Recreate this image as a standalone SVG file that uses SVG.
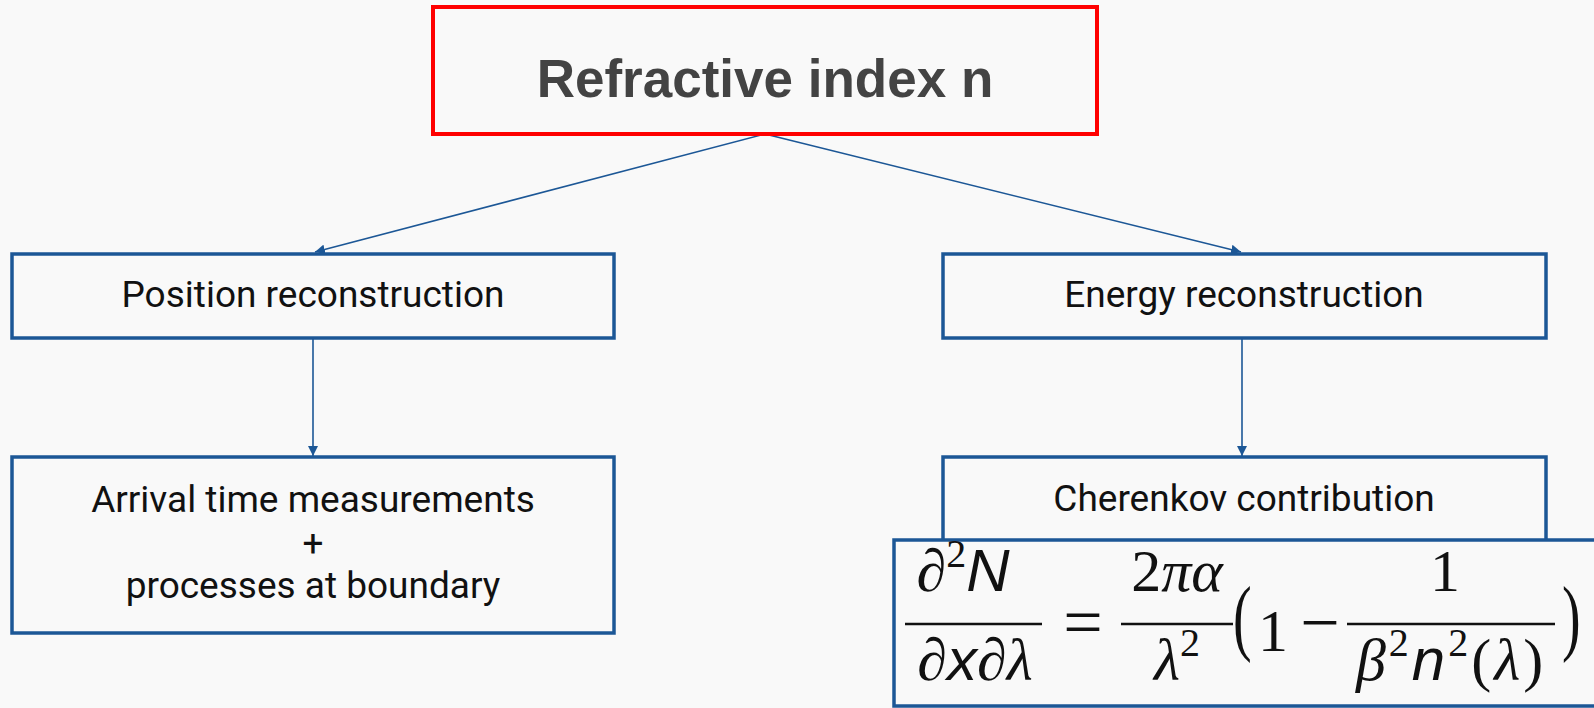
<svg xmlns="http://www.w3.org/2000/svg" width="1594" height="708" viewBox="0 0 1594 708">
<defs>
<marker id="ah" viewBox="0 0 10 10" refX="10" refY="5" markerWidth="10" markerHeight="10" markerUnits="userSpaceOnUse" orient="auto">
<path d="M0,0 L10,5 L0,10 z" fill="#1c5796"/>
</marker>
</defs>
<style>
.box{fill:#f9f9f9;stroke:#1c5796;stroke-width:3.5}
.lbl{font-family:Roboto,"Liberation Sans",sans-serif;font-size:37px;fill:#111;text-anchor:middle}
.con{stroke:#1c5796;stroke-width:1.6;fill:none;marker-end:url(#ah)}
.m{font-family:"Liberation Serif","DejaVu Serif",serif;font-size:60px;fill:#111}
.op{font-family:"Liberation Serif",serif;font-size:70px;fill:#111;text-anchor:middle}
.par{font-family:"Liberation Serif",serif;font-size:56px;fill:#111}
.sf{font-family:"Liberation Sans",sans-serif;font-style:italic}
.it{font-style:italic}
.sup{font-size:40px;font-style:normal}
.bar{stroke:#111;stroke-width:2.5}
</style>
<rect width="1594" height="708" fill="#f9f9f9"/>
<g id="connectors">
<line class="con" x1="765" y1="134" x2="315" y2="252"/>
<line class="con" x1="765" y1="134" x2="1241" y2="252"/>
<line class="con" x1="313" y1="338" x2="313" y2="456"/>
<line class="con" x1="1242" y1="338" x2="1242" y2="456"/>
</g>
<g id="title">
<rect x="433" y="7" width="664" height="127" fill="#f9f9f9" stroke="#ff0000" stroke-width="4"/>
<text x="765" y="97" text-anchor="middle" font-family="'Liberation Sans',Arial,sans-serif" font-weight="bold" font-size="53" fill="#434343">Refractive index n</text>
</g>
<g id="position">
<rect class="box" x="12" y="254" width="602" height="84"/>
<text class="lbl" x="313" y="307">Position reconstruction</text>
</g>
<g id="energy">
<rect class="box" x="943" y="254" width="603" height="84"/>
<text class="lbl" x="1244" y="307">Energy reconstruction</text>
</g>
<g id="arrival">
<rect class="box" x="12" y="457" width="602" height="176"/>
<text class="lbl" x="313" y="512">Arrival time measurements</text>
<text class="lbl" x="313" y="556">+</text>
<text class="lbl" x="313" y="598">processes at boundary</text>
</g>
<g id="cherenkov">
<rect class="box" x="943" y="457" width="603" height="90"/>
<text class="lbl" x="1244" y="511">Cherenkov contribution</text>
</g>
<g id="formula">
<rect class="box" x="894" y="540" width="720" height="166"/>
<text class="m" x="963" y="591" text-anchor="middle"><tspan class="it">∂</tspan><tspan class="sup" dy="-24">2</tspan><tspan class="sf" dy="24">N</tspan></text>
<line class="bar" x1="905" y1="624" x2="1042" y2="624"/>
<text class="m it" x="975" y="680" text-anchor="middle">∂<tspan class="sf">x</tspan>∂λ</text>
<text class="op" x="1083" y="646">=</text>
<text class="m" x="1177" y="591" text-anchor="middle">2<tspan class="it">πα</tspan></text>
<line class="bar" x1="1121" y1="624" x2="1233" y2="624"/>
<text class="m" x="1177" y="680" text-anchor="middle"><tspan class="it">λ</tspan><tspan class="sup" dy="-24">2</tspan></text>
<text class="par" transform="translate(1233,645) scale(1,1.5)">(</text>
<text class="m" x="1258" y="651">1</text>
<text class="op" x="1320" y="646">−</text>
<text class="m" x="1445" y="591" text-anchor="middle">1</text>
<line class="bar" x1="1347" y1="624" x2="1555" y2="624"/>
<text class="m" x="1451" y="680" text-anchor="middle" letter-spacing="3"><tspan class="it">β</tspan><tspan class="sup" dy="-24">2</tspan><tspan class="sf" dy="24">n</tspan><tspan class="sup" dy="-24">2</tspan><tspan dy="24">(</tspan><tspan class="it">λ</tspan><tspan>)</tspan></text>
<text class="par" transform="translate(1562,645) scale(1,1.5)">)</text>
</g>
</svg>
